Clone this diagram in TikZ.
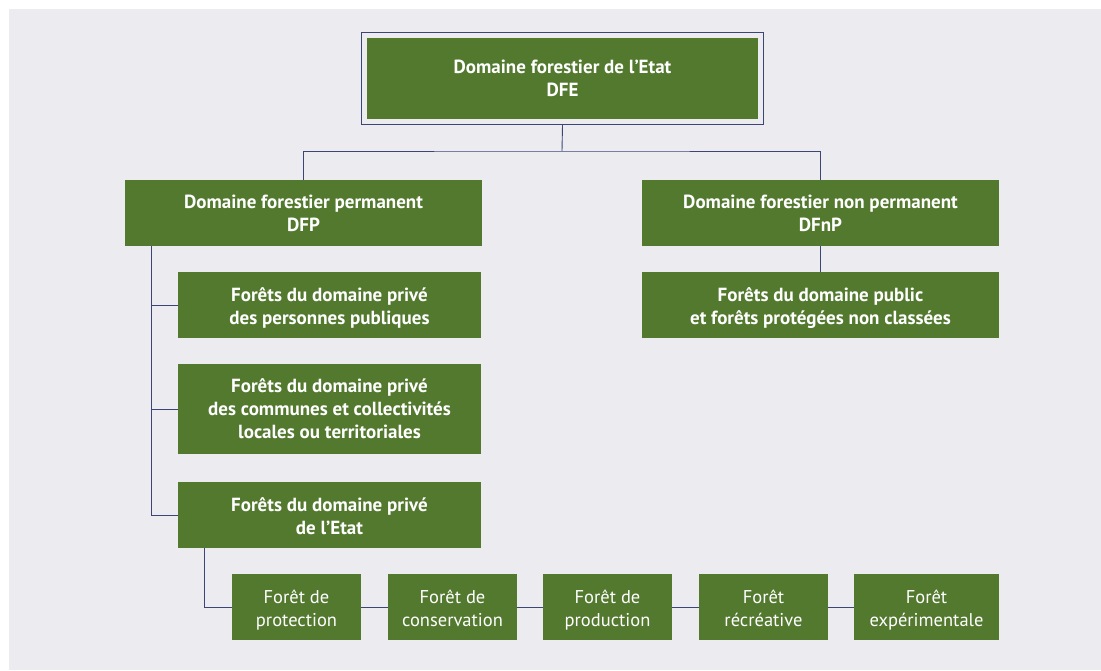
\documentclass[tikz,border=0pt]{standalone}
\usepackage{fontspec}
\setmainfont{PT Sans}
\usetikzlibrary{fit}
\definecolor{forestGreen}{HTML}{52792E}
\definecolor{lineNavy}{HTML}{3B4677}
\definecolor{paperGrey}{HTML}{ECEBF0}
\newcommand{\topStrut}{\rule{0pt}{22pt}}

\begin{document}
\begin{tikzpicture}
[x=1pt,y=-1pt,
  greenBox/.style={shape=rectangle,fill=forestGreen,text=white,align=center,
    inner sep=0pt,font=\fontsize{19}{23}\selectfont\bfseries},%
  smallBox/.style={greenBox,minimum width=129pt,minimum height=66pt,
    font=\fontsize{18.5}{23}\selectfont},%
  frameDecorate/.style={draw=lineNavy,line width=0.8pt,inner sep=5.5pt},%
  lineDecorate/.style={-,draw=lineNavy,line width=0.9pt}]
\useasboundingbox (0,0) rectangle (1101,670);
\fill[paperGrey] (9,9) rectangle (1101,670);
%% top level
\node (dfe) at (562.5,78.5) [greenBox,minimum width=391pt,minimum height=81pt]
  {Domaine forestier de l’Etat\\DFE};
\node (dfeFrame) [frameDecorate,fit=(dfe)] {};
\coordinate (split) at (562,151);
%% second level
\node (dfp) at (303.5,213) [greenBox,minimum width=357pt,minimum height=66pt]
  {Domaine forestier permanent\\DFP};
\node (dfnp) at (820.5,213) [greenBox,minimum width=357pt,minimum height=66pt]
  {Domaine forestier non permanent\\DFnP};
%% under DFP
\node (pp) at (329.5,305) [greenBox,minimum width=303pt,minimum height=66pt]
  {\topStrut Forêts du domaine privé\\\strut des personnes publiques};
\node (cl) at (329.5,409) [greenBox,minimum width=303pt,minimum height=90pt]
  {Forêts du domaine privé\\des communes et collectivités\\locales ou territoriales};
\node (pe) at (329.5,515) [greenBox,minimum width=303pt,minimum height=66pt]
  {\topStrut Forêts du domaine privé\\\strut de l’Etat};
%% under DFnP
\node (pub) at (820.5,305) [greenBox,minimum width=357pt,minimum height=66pt]
  {\topStrut Forêts du domaine public\\\strut et forêts protégées non classées};
%% forests of the private state domain
\foreach \nodename/\x/\label in {prot/296.5/{\topStrut Forêt de\\\strut protection},
  cons/452.5/{\topStrut Forêt de\\\strut conservation}, prod/607.5/{\topStrut Forêt de\\\strut production},
  recr/763.5/{\topStrut Forêt\\\strut récréative}}
{
  \node (\nodename) at (\x,607) [smallBox] {\label};
}
\node (expe) at (926.5,607) [smallBox,minimum width=145pt] {\topStrut Forêt\\\strut expérimentale};
%% edges or lines
\draw[lineDecorate] (dfeFrame.south) -- (split);
\draw[lineDecorate] (dfp.north) |- (split) -| (dfnp.north);
\draw[lineDecorate] (dfnp.south) -- (pub.north);
\draw[lineDecorate] ([xshift=27pt]dfp.south west) |- (pe.west);
\foreach \endnode in {pp, cl}
{
  \draw[lineDecorate] ([xshift=27pt]dfp.south west |- \endnode.west) -- (\endnode.west);
}
\draw[lineDecorate] ([xshift=27pt]pe.south west) |- (prot.west);
\foreach \startnode/\endnode in {prot/cons, cons/prod, prod/recr, recr/expe}
{
  \draw[lineDecorate] (\startnode.east) -- (\endnode.west);
}
\end{tikzpicture}
\end{document}
